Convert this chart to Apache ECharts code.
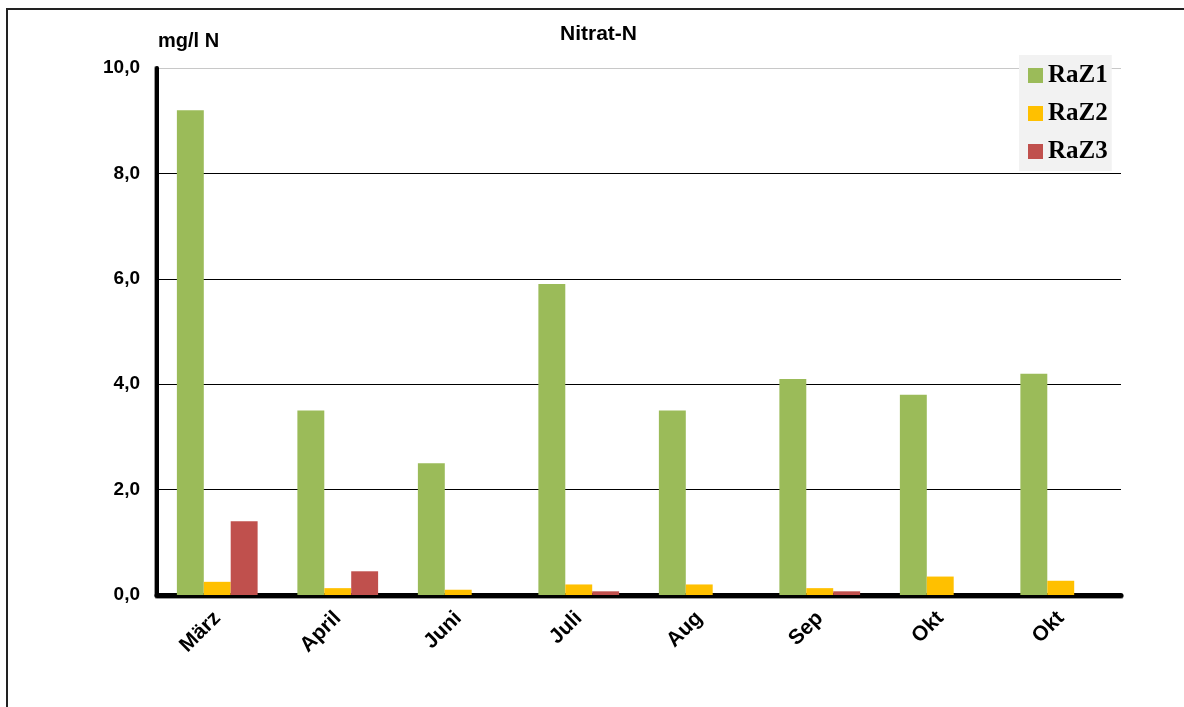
<!DOCTYPE html>
<html lang="de">
<head>
    <meta charset="UTF-8">
    <title>Nitrat-N</title>
    <script src="https://cdn.jsdelivr.net/npm/echarts@6/dist/echarts.min.js"></script>
    <style>
        html, body { margin: 0; padding: 0; background: #fff; }
        #frame {
            position: absolute; left: 6px; top: 8px; width: 1180px; height: 702px;
            border-top: 2px solid #222; border-left: 2px solid #222;
        }
        #main { position: absolute; left: 0; top: 0; width: 1184px; height: 707px; }
    </style>
</head>
<body>
    <div id="frame"></div>
    <div id="main"></div>
    <script>
        // Monate (Okt kommt zweimal vor, wie im Original)
        var months = ['März', 'April', 'Juni', 'Juli', 'Aug', 'Sep', 'Okt', 'Okt'];
        var raz1 = [9.2, 3.5, 2.5, 5.9, 3.5, 4.1, 3.8, 4.2];
        var raz2 = [0.25, 0.13, 0.1, 0.2, 0.2, 0.13, 0.35, 0.27];
        var raz3 = [1.4, 0.45, 0, 0.07, 0, 0.07, 0, 0];
        var yTicks = [0, 2, 4, 6, 8, 10];

        var myChart = echarts.init(document.getElementById('main'));

        var labelFont = 'Liberation Sans, Arial, sans-serif';

        var option = {
            animation: false,
            title: [{
                text: 'Nitrat-N',
                left: 560, top: 24, padding: 0,
                textStyle: { fontFamily: labelFont, fontSize: 21, fontWeight: 'bold', color: '#000' }
            }, {
                text: 'mg/l N',
                left: 158, top: 31, padding: 0,
                textStyle: { fontFamily: labelFont, fontSize: 20, fontWeight: 'bold', color: '#000' }
            }],
            legend: {
                orient: 'vertical',
                left: 1019, top: 55,
                padding: [8, 4, 7, 9],
                backgroundColor: '#f2f2f2',
                itemWidth: 15, itemHeight: 15,
                itemGap: 13,
                icon: 'rect',
                textStyle: {
                    fontFamily: 'Liberation Serif, Times New Roman, serif',
                    fontSize: 25, fontWeight: 'bold', color: '#000', lineHeight: 24
                },
                data: ['RaZ1', 'RaZ2', 'RaZ3']
            },
            grid: { left: 157, right: 63, top: 68, bottom: 112 },
            xAxis: {
                type: 'category',
                data: months,
                axisLine: { lineStyle: { color: '#000', width: 5, shadowColor: '#999', shadowOffsetY: 1 } },
                axisTick: { show: false },
                axisLabel: {
                    rotate: 45, interval: 0, margin: 20,
                    fontFamily: labelFont, fontSize: 21, fontWeight: 'bold', color: '#000'
                }
            },
            yAxis: {
                type: 'value',
                min: yTicks[0], max: yTicks[yTicks.length - 1], interval: 2,
                axisLine: { show: true, lineStyle: { color: '#000', width: 4, shadowColor: '#999', shadowOffsetX: -1 } },
                axisTick: { show: false },
                axisLabel: {
                    margin: 17,
                    fontFamily: labelFont, fontSize: 19, fontWeight: 'bold', color: '#000',
                    formatter: function (v) { return v.toFixed(1).replace('.', ','); }
                },
                splitLine: {
                    lineStyle: { width: 1, color: ['#000', '#000', '#000', '#000', '#000', '#c8c8c8'] }
                }
            },
            series: [{
                name: 'RaZ1', type: 'bar', data: raz1,
                barGap: 0, barCategoryGap: '33%',
                itemStyle: { color: '#9bbb59' }
            }, {
                name: 'RaZ2', type: 'bar', data: raz2,
                itemStyle: { color: '#ffc000' }
            }, {
                name: 'RaZ3', type: 'bar', data: raz3,
                itemStyle: { color: '#c0504d' }
            }]
        };

        myChart.setOption(option);
    </script>
</body>
</html>
